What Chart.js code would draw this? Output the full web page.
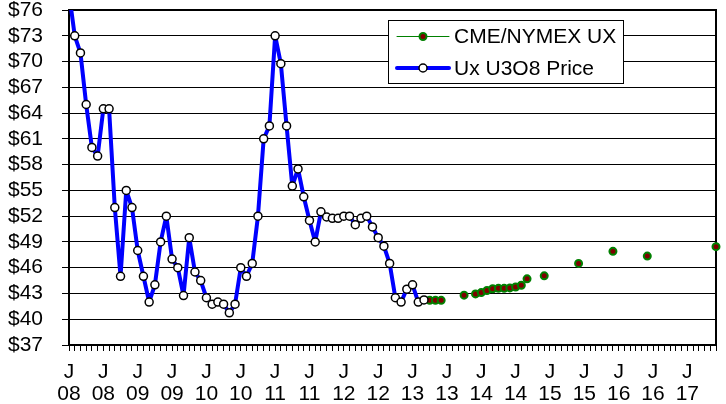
<!DOCTYPE html>
<html>
<head>
<meta charset="utf-8">
<script src="https://cdn.jsdelivr.net/npm/chart.js@4/dist/chart.umd.min.js"></script>
<style>
  html, body { margin: 0; padding: 0; background: #fff; }
  #wrap { width: 726px; height: 404px; position: relative; }
</style>
</head>
<body>
<div id="wrap"><canvas id="uxChart"></canvas></div>
<script>
// Month categories, Jan 2008 .. Jun 2017
const firstYear = 2008, firstMonth = 1, monthCount = 114;
const months = [];
for (let k = 0; k < monthCount; k++) {
    const m = (firstMonth - 1 + k) % 12 + 1;
    const y = firstYear + Math.floor((firstMonth - 1 + k) / 12);
    months.push(y + '-' + String(m).padStart(2, '0'));
}

// Ux U3O8 month-end spot price ($/lb), from Jan 2008
const uxPrice = [
    78, 73, 71, 65, 60, 59, 64.5, 64.5, 53, 45, 55, 53,          // 2008
    48, 45, 42, 44, 49, 52, 47, 46, 42.75, 49.5, 45.5, 44.5,     // 2009
    42.5, 41.75, 42, 41.75, 40.75, 41.75, 46, 45, 46.5, 52, 61, 62.5, // 2010
    73, 69.75, 62.5, 55.5, 57.5, 54.25, 51.5, 49, 52.5, 51.9, 51.75, 51.75, // 2011
    52, 52, 51, 51.75, 52, 50.75, 49.5, 48.5, 46.5, 42.5, 42, 43.5, // 2012
    44, 42, 42.25                                                   // 2013
];

// CME/NYMEX UX futures settlement curve
const cmeMonths = [
    '2013-04', '2013-05', '2013-06', '2013-10', '2013-12', '2014-01', '2014-02',
    '2014-03', '2014-04', '2014-05', '2014-06', '2014-07', '2014-08', '2014-09',
    '2014-12', '2015-06', '2015-12', '2016-06', '2017-06'
];
const cmeValues = [
    42.2, 42.2, 42.2, 42.8, 42.95, 43.1, 43.35,
    43.55, 43.6, 43.6, 43.65, 43.75, 43.95, 44.7,
    45.05, 46.5, 47.9, 47.35, 48.45
];

// Y axis range
const yMin = 37, yMax = 76, yStep = 3;

const cmeSeries = months.map(m => {
    const k = cmeMonths.indexOf(m);
    return k >= 0 ? cmeValues[k] : null;
});

const FONT = "'Liberation Sans', Arial, sans-serif";

// top/right border of the plot
const framePlugin = {
    id: 'frame',
    beforeDatasetsDraw(chart) {
        const { ctx, chartArea: a } = chart;
        ctx.save();
        ctx.strokeStyle = '#000';
        ctx.lineWidth = 2;
        ctx.beginPath();
        ctx.moveTo(a.left, a.top);
        ctx.lineTo(a.right, a.top);
        ctx.lineTo(a.right, a.bottom);
        ctx.stroke();
        ctx.restore();
    }
};

// boxed legend inside the plot
const boxLegend = {
    id: 'boxLegend',
    afterDatasetsDraw(chart) {
        const ctx = chart.ctx;
        const box = { x: 388.5, y: 20.5, w: 235, h: 63 };
        ctx.save();
        ctx.fillStyle = '#fff';
        ctx.fillRect(box.x, box.y, box.w, box.h);
        ctx.strokeStyle = '#000';
        ctx.lineWidth = 1;
        ctx.strokeRect(box.x, box.y, box.w, box.h);
        const items = [chart.data.datasets[1], chart.data.datasets[0]];
        const rowY = [36.5, 68];
        items.forEach((ds, r) => {
            const y = rowY[r];
            ctx.strokeStyle = ds.borderColor;
            ctx.lineWidth = ds.borderWidth;
            ctx.lineCap = 'round';
            ctx.beginPath();
            ctx.moveTo(397, y);
            ctx.lineTo(449, y);
            ctx.stroke();
            ctx.beginPath();
            ctx.arc(423, y, ds.pointRadius, 0, Math.PI * 2);
            ctx.fillStyle = ds.pointBackgroundColor;
            ctx.fill();
            ctx.lineWidth = ds.pointBorderWidth;
            ctx.strokeStyle = ds.pointBorderColor;
            ctx.stroke();
            ctx.fillStyle = '#000';
            ctx.font = '21px ' + FONT;
            ctx.textBaseline = 'middle';
            ctx.textAlign = 'left';
            ctx.fillText(ds.label, 454, y + 1);
        });
        ctx.restore();
    }
};

new Chart(document.getElementById('uxChart'), {
    type: 'line',
    data: {
        labels: months,
        datasets: [{
            label: 'Ux U3O8 Price',
            data: uxPrice,
            borderColor: '#0000FF',
            borderWidth: 4,
            borderJoinStyle: 'round',
            pointRadius: 4,
            pointBackgroundColor: '#fff',
            pointBorderColor: '#000',
            pointBorderWidth: 1.5,
            tension: 0,
            clip: { left: 6, top: 0, right: 6, bottom: 6 }
        }, {
            label: 'CME/NYMEX UX',
            data: cmeSeries,
            borderColor: '#008000',
            borderWidth: 1,
            pointRadius: 3.5,
            pointBackgroundColor: '#800000',
            pointBorderColor: '#008000',
            pointBorderWidth: 2,
            spanGaps: false,
            tension: 0,
            clip: false
        }]
    },
    options: {
        responsive: true,
        maintainAspectRatio: false,
        animation: false,
        layout: { padding: { top: 10, right: 10, left: 8, bottom: 0 } },
        plugins: {
            legend: { display: false },
            tooltip: { enabled: false }
        },
        scales: {
            x: {
                offset: false,
                afterFit: s => { s.height = 59; },
                grid: {
                    drawOnChartArea: false,
                    drawTicks: true,
                    tickLength: 6,
                    color: '#000',
                    offset: false
                },
                border: { color: '#000', width: 2 },
                ticks: {
                    autoSkip: false,
                    maxRotation: 0,
                    minRotation: 0,
                    padding: 10,
                    color: '#000',
                    font: { family: FONT, size: 21, lineHeight: 1.05 },
                    callback: function (v) {
                        const lab = this.getLabelForValue(v);
                        const mm = lab.slice(5);
                        if (mm === '01' || mm === '07') return ['J', lab.slice(2, 4)];
                        return '';
                    }
                }
            },
            y: {
                min: yMin,
                max: yMax,
                afterFit: s => { s.width = 61; },
                grid: { color: '#000', lineWidth: 1, tickLength: 7 },
                border: { color: '#000', width: 2 },
                ticks: {
                    stepSize: yStep,
                    autoSkip: false,
                    padding: 0,
                    crossAlign: 'far',
                    color: '#000',
                    font: { family: FONT, size: 21, lineHeight: 0.9 },
                    callback: v => '$' + v
                }
            }
        }
    },
    plugins: [framePlugin, boxLegend]
});
</script>
</body>
</html>
